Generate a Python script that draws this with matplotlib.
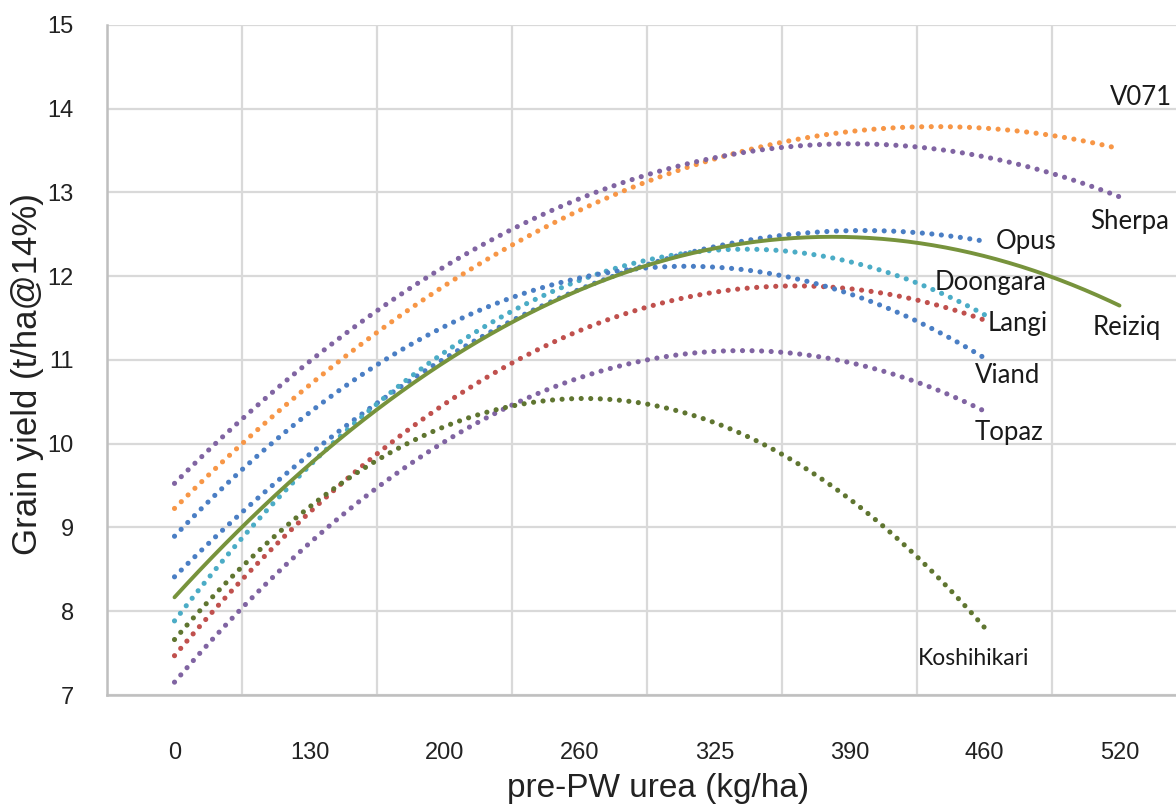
import numpy as np
import matplotlib
matplotlib.use("Agg")
import matplotlib.pyplot as plt

# pre-PW urea categories (kg/ha), evenly spaced category axis
urea_labels = ["0", "130", "200", "260", "325", "390", "460", "520"]

# grain yield read at each category (t/ha @14%)
v071 = [9.23, 10.70, 11.88, 12.79, 13.40, 13.73, 13.77, 13.52]
sherpa = [9.53, 10.98, 12.10, 12.95, 13.40, 13.59, 13.42, 12.95]
reiziq = [8.17, 9.74, 10.97, 11.86, 12.34, 12.46, 12.21, 11.67]
opus = [8.41, 9.88, 11.00, 11.86, 12.35, 12.54, 12.42]
viand = [8.89, 10.38, 11.41, 11.96, 12.11, 11.80, 11.02]
doongara = [7.89, 9.72, 11.10, 11.97, 12.30, 12.16, 11.55]
langi = [7.47, 9.17, 10.49, 11.35, 11.80, 11.85, 11.48]
topaz = [7.13, 8.85, 10.03, 10.77, 11.10, 10.96, 10.40]
koshihikari = [7.69, 9.23, 10.17, 10.50, 10.31, 9.39, 7.76]

series = [
    ("V071", v071, "#F79646", (7.93, 14.13), 18.5),
    ("Sherpa", sherpa, "#8064A2", (7.78, 12.65), 18.5),
    ("Opus", opus, "#4A7EC4", (7.08, 12.41), 18.5),
    ("Doongara", doongara, "#4BACC6", (6.63, 11.93), 18.5),
    ("Langi", langi, "#C0504D", (7.02, 11.43), 18.5),
    ("Viand", viand, "#4A7EC4", (6.93, 10.81), 18.5),
    ("Topaz", topaz, "#8064A2", (6.93, 10.14), 18.5),
    ("Koshihikari", koshihikari, "#5F7530", (6.51, 7.44), 16.5),
]

fig = plt.figure(figsize=(11.76, 8.07), dpi=100)
ax = fig.add_axes([107 / 1176, 1 - 695 / 807, 1080 / 1176, 670 / 807])

def trend(vals):
    x = np.arange(1, len(vals) + 1)
    coef = np.polyfit(x, vals, 2)
    xs = np.linspace(1, len(vals), 300)
    return xs, np.polyval(coef, xs)

for name, vals, color, (tx, ty), fs in series:
    xs, ys = trend(vals)
    ax.plot(xs, ys, color=color, lw=3.7, linestyle=(0, (0.01, 1.85)),
            dash_capstyle="round", zorder=3)
    ax.text(tx, ty, name, fontsize=fs, family="Lato", va="center", ha="left",
            color="#1a1a1a", zorder=4, clip_on=False)

xs, ys = trend(reiziq)
ax.plot(xs, ys, color="#77933C", lw=2.8, solid_capstyle="round", zorder=3)
ax.text(7.80, 11.39, "Reiziq", fontsize=18.5, family="Lato", va="center",
        ha="left", color="#1a1a1a", zorder=4)

ax.set_xlim(0.5, 8.5)
ax.set_ylim(7, 15)
ax.set_xticks(range(1, 9))
ax.set_xticklabels(urea_labels)
ax.set_xticks(np.arange(0.5, 9.0, 1.0), minor=True)
ax.set_yticks(range(7, 16))
ax.tick_params(axis="both", which="both", length=0)
ax.tick_params(axis="x", which="major", pad=34, labelsize=17, labelcolor="#222222")
ax.tick_params(axis="y", which="major", pad=24, labelsize=17, labelcolor="#222222")
for lab in ax.get_xticklabels() + ax.get_yticklabels():
    lab.set_family("Liberation Sans")

ax.grid(True, axis="x", which="minor", color="#D9D9D9", lw=1.6)
ax.grid(True, axis="y", which="major", color="#D9D9D9", lw=1.6)
ax.set_axisbelow(True)

for side in ["top", "right"]:
    ax.spines[side].set_visible(False)
for side in ["left", "bottom"]:
    ax.spines[side].set_color("#BFBFBF")
    ax.spines[side].set_linewidth(1.8)

fig.text(28 / 1176, 1 - 374 / 807, "Grain yield (t/ha@14%)", rotation=90,
         fontsize=25, family="Liberation Sans", va="center", ha="center",
         color="#222222")
fig.text(658 / 1176, 1 - 788 / 807, "pre-PW urea (kg/ha)", fontsize=24,
         family="Liberation Sans", va="center", ha="center", color="#222222")

fig.savefig("out.png", dpi=100)
